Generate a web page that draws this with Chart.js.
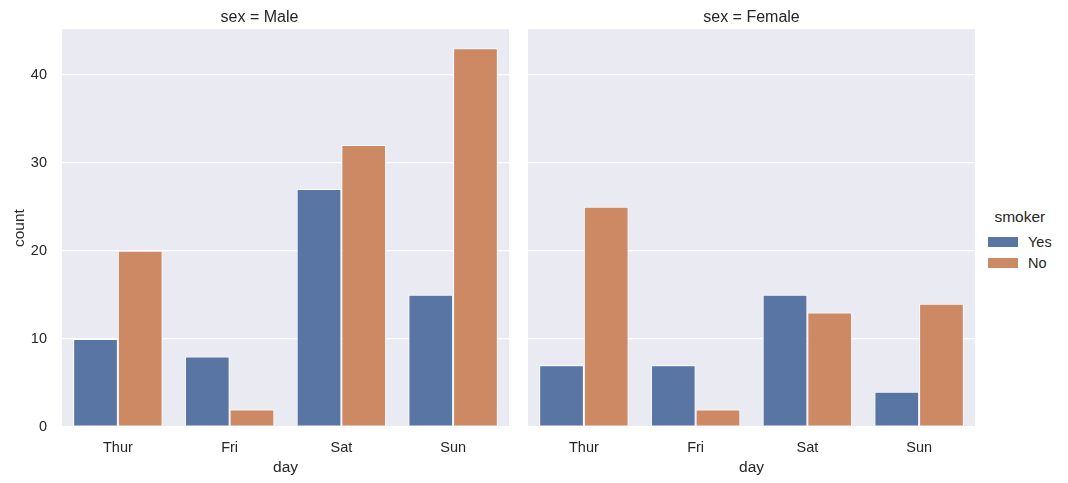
<!DOCTYPE html>
<html>
<head>
<meta charset="utf-8">
<script src="https://cdn.jsdelivr.net/npm/chart.js@4.4.1/dist/chart.umd.min.js"></script>
<style>
  body { margin: 0; background: #fff; width: 1068px; height: 483px; position: relative; overflow: hidden; font-family: "Liberation Sans", Arial, sans-serif; }
  .panel { position: absolute; top: 0; }
  #legend { position: absolute; left: 980px; top: 208px; color: #262626; font-size: 14.5px; }
  #legend .title { text-align: center; margin-left: 8px; margin-bottom: 5px; font-size: 15.5px; }
  #legend .item { display: flex; align-items: center; height: 21px; }
  #legend .sw { width: 30px; height: 10px; margin-left: 8px; margin-right: 10px; }
</style>
</head>
<body>
<div class="panel" style="left:10px;width:510px;height:477px"><canvas id="male"></canvas></div>
<div class="panel" style="left:528px;width:447px;height:477px"><canvas id="female"></canvas></div>
<div id="legend"></div>
<script>
// Data (seaborn tips: count by day / smoker / sex)
const days = ['Thur', 'Fri', 'Sat', 'Sun'];
const smokers = ['Yes', 'No'];
const maleYes = [10, 8, 27, 15];
const maleNo = [20, 2, 32, 43];
const femaleYes = [7, 7, 15, 4];
const femaleNo = [25, 2, 13, 14];
const yTicks = [0, 10, 20, 30, 40];

const colors = ['#5975a4', '#cc8963'];
const textColor = '#262626';
const fontFamily = '"Liberation Sans", Arial, sans-serif';

// plot background
const bgPlugin = {
  id: 'bg',
  beforeDraw(chart) {
    const a = chart.chartArea;
    const ctx = chart.ctx;
    ctx.save();
    ctx.fillStyle = '#eaeaf2';
    ctx.fillRect(a.left, a.top, a.right - a.left, a.bottom - a.top);
    ctx.restore();
  }
};

function makeChart(id, title, yes, no, showY) {
  const ctx = document.getElementById(id).getContext('2d');
  return new Chart(ctx, {
    type: 'bar',
    data: {
      labels: days,
      datasets: [
        { label: smokers[0], data: yes, backgroundColor: colors[0], borderColor: '#fff', borderWidth: 1, borderSkipped: false },
        { label: smokers[1], data: no, backgroundColor: colors[1], borderColor: '#fff', borderWidth: 1, borderSkipped: false }
      ]
    },
    options: {
      responsive: true,
      maintainAspectRatio: false,
      animation: false,
      layout: { padding: { right: showY ? 11 : 0, left: 0, top: 0, bottom: 0 } },
      datasets: { bar: { categoryPercentage: 0.8, barPercentage: 1.0 } },
      plugins: {
        legend: { display: false },
        tooltip: { enabled: false },
        title: {
          display: true,
          text: title,
          color: textColor,
          font: { family: fontFamily, size: 16, weight: 'normal' },
          padding: { top: 8, bottom: 2 }
        }
      },
      scales: {
        x: {
          grid: { display: false },
          border: { display: false },
          ticks: { color: textColor, font: { family: fontFamily, size: 14.5 }, padding: 4 },
          title: { display: true, text: 'day', color: textColor, font: { family: fontFamily, size: 15.5 }, padding: { top: 1, bottom: 0 } },
          afterFit(s) { s.height = 50; }
        },
        y: {
          min: 0,
          max: 45.15,
          afterBuildTicks(s) { s.ticks = yTicks.map(v => ({ value: v })); },
          grid: { color: '#ffffff', lineWidth: 1.2, drawTicks: false },
          border: { display: false },
          ticks: { display: showY, color: textColor, font: { family: fontFamily, size: 14.5 }, padding: 15 },
          title: { display: showY, text: 'count', color: textColor, font: { family: fontFamily, size: 15.5 }, padding: { top: 0, bottom: 0 } },
          afterFit(s) { s.width = showY ? 52 : 0; }
        }
      }
    },
    plugins: [bgPlugin]
  });
}

makeChart('male', 'sex = Male', maleYes, maleNo, true);
makeChart('female', 'sex = Female', femaleYes, femaleNo, false);

// legend
const legend = document.getElementById('legend');
legend.innerHTML = '<div class="title">smoker</div>' + smokers.map((s, i) =>
  `<div class="item"><span class="sw" style="background:${colors[i]}"></span><span>${s}</span></div>`
).join('');
</script>
</body>
</html>
